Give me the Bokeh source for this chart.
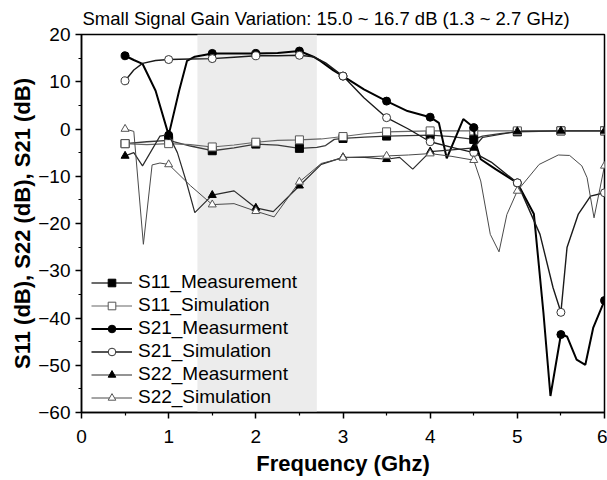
from bokeh.plotting import figure
from bokeh.models import BoxAnnotation, Legend, LegendItem, Range1d, FixedTicker
from bokeh.embed import file_html
from bokeh.resources import INLINE

# ---------------- data ----------------
title_text = "Small Signal Gain Variation: 15.0 ~ 16.7 dB (1.3 ~ 2.7 GHz)"
band = [1.33, 2.7]
x_ticks = [0, 1, 2, 3, 4, 5, 6]
y_ticks = [-60, -50, -40, -30, -20, -10, 0, 10, 20]

s11_meas_f = [0.5, 0.75, 1.0, 1.25, 1.5, 1.75, 2.0, 2.25, 2.5, 2.7, 2.8, 2.9, 3.0, 3.25, 3.5, 3.75, 4.0, 4.25, 4.5, 4.6, 4.8, 5.0, 5.5, 6.0]
s11_meas_v = [-3.1, -2.7, -2.4, -3.6, -4.6, -4.0, -3.2, -3.4, -4.1, -3.9, -3.5, -2.2, -2.0, -1.7, -1.5, -1.4, -1.3, -1.6, -2.2, -1.5, -1.0, -0.6, -0.4, -0.4]

s11_sim_f = [0.5, 0.75, 1.0, 1.25, 1.5, 1.75, 2.0, 2.25, 2.5, 2.75, 3.0, 3.25, 3.5, 4.0, 4.5, 5.0, 5.5, 6.0]
s11_sim_v = [-3.1, -3.3, -3.1, -3.3, -3.8, -3.4, -2.8, -2.4, -2.3, -2.1, -1.6, -1.0, -0.6, -0.4, -0.4, -0.4, -0.4, -0.4]

s21_meas_f = [0.5, 0.6, 0.7, 0.85, 1.0, 1.12, 1.21, 1.3, 1.5, 1.75, 2.0, 2.25, 2.5, 2.66, 2.74, 2.89, 3.0, 3.24, 3.5, 3.74, 4.0, 4.1, 4.19, 4.38, 4.5, 4.52, 4.58, 4.75, 5.0, 5.19, 5.3, 5.38, 5.5, 5.57, 5.68, 5.78, 5.87, 6.0]
s21_meas_v = [15.5, 14.6, 13.8, 8.1, -1.3, 8.1, 14.4, 15.3, 16.0, 16.0, 16.0, 16.1, 16.5, 15.3, 14.4, 12.4, 11.2, 8.4, 5.9, 3.8, 2.5, 1.3, -6.2, 2.1, 0.3, -2.9, -6.4, -8.5, -11.4, -18.0, -39.0, -56.5, -43.5, -43.9, -48.8, -49.9, -42.1, -36.3]

s21_sim_f = [0.5, 0.6, 0.7, 0.85, 1.0, 1.25, 1.5, 1.75, 2.0, 2.25, 2.5, 2.66, 2.8, 3.0, 3.24, 3.5, 3.75, 4.0, 4.25, 4.5, 4.7, 5.0, 5.26, 5.41, 5.5, 5.57, 5.7, 5.84, 6.0]
s21_sim_v = [10.2, 12.5, 13.9, 14.5, 14.7, 14.8, 14.9, 15.2, 15.5, 15.5, 15.6, 15.3, 14.0, 11.2, 6.6, 2.4, 0.0, -2.7, -3.9, -5.0, -7.0, -11.4, -22.3, -33.6, -38.8, -25.1, -18.0, -14.2, -13.5]

s22_meas_f = [0.5, 0.6, 0.7, 0.9, 1.0, 1.1, 1.2, 1.3, 1.5, 1.75, 2.0, 2.2, 2.5, 2.75, 3.0, 3.25, 3.5, 3.65, 3.8, 4.0, 4.25, 4.5, 4.6, 5.0, 5.5, 6.0]
s22_meas_v = [-5.7, -5.0, -7.8, -1.5, -1.2, -5.0, -11.0, -17.7, -14.0, -13.1, -16.7, -17.5, -12.0, -7.5, -6.0, -6.0, -6.4, -6.0, -8.5, -4.8, -4.4, -4.0, -1.8, -0.5, -0.4, -0.4]

s22_sim_f = [0.5, 0.6, 0.71, 0.81, 0.9, 1.0, 1.25, 1.5, 1.75, 2.0, 2.21, 2.5, 2.75, 3.0, 3.25, 3.5, 3.75, 4.0, 4.25, 4.5, 4.58, 4.69, 4.79, 4.88, 5.0, 5.25, 5.47, 5.6, 5.74, 5.8, 5.88, 6.0]
s22_sim_v = [0.0, -0.5, -24.4, -7.6, -7.2, -7.5, -12.0, -16.0, -15.8, -17.4, -18.6, -11.2, -7.3, -6.1, -5.9, -5.7, -5.5, -5.2, -5.8, -6.6, -11.0, -22.3, -26.0, -18.1, -13.1, -7.5, -5.5, -5.6, -7.8, -10.3, -18.8, -7.8]

series = [
    ("S11_Measurement", s11_meas_f, s11_meas_v, "square", "black", "black", "#3a3a3a", 1.3),
    ("S11_Simulation", s11_sim_f, s11_sim_v, "square", "white", "#555555", "#666666", 1.1),
    ("S21_Measurment", s21_meas_f, s21_meas_v, "circle", "black", "black", "#000000", 2.0),
    ("S21_Simulation", s21_sim_f, s21_sim_v, "circle", "white", "#333333", "#1a1a1a", 1.4),
    ("S22_Measurment", s22_meas_f, s22_meas_v, "triangle", "black", "black", "#2a2a2a", 1.2),
    ("S22_Simulation", s22_sim_f, s22_sim_v, "triangle", "white", "#555555", "#4a4a4a", 1.0),
]

# ---------------- figure ----------------
p = figure(width=607, height=480, output_backend="svg", toolbar_location=None,
           x_range=Range1d(0, 6), y_range=Range1d(-60, 20),
           min_border_left=81, min_border_right=3, min_border_top=34, min_border_bottom=68)

p.title.text = title_text
p.title.align = "left"
p.title.vertical_align = "middle"
p.title.text_font = "Liberation Sans"
p.title.text_font_size = "18.5px"
p.title.text_font_style = "normal"
p.title.text_color = "black"
p.title.offset = 1

p.xgrid.visible = False
p.ygrid.visible = False
p.outline_line_color = "black"
p.outline_line_width = 1.5
p.outline_line_alpha = 1.0

p.add_layout(BoxAnnotation(left=band[0], right=band[1], fill_color="#ececec", fill_alpha=1.0,
                           line_alpha=0, level="underlay"))

for ax in (p.xaxis[0], p.yaxis[0]):
    ax.axis_line_width = 1.5
    ax.major_tick_line_width = 1.5
    ax.minor_tick_line_width = 1.2
    ax.major_tick_in = 0
    ax.major_tick_out = 6
    ax.minor_tick_in = 0
    ax.minor_tick_out = 3
    ax.major_label_text_font = "Liberation Sans"
    ax.major_label_text_font_size = "19px"
    ax.axis_label_text_font = "Liberation Sans"
    ax.axis_label_text_font_size = "22px"
    ax.axis_label_text_font_style = "bold"
    ax.major_label_text_color = "black"
    ax.axis_label_text_color = "black"

p.xaxis.ticker = FixedTicker(ticks=x_ticks, minor_ticks=[t + 0.5 for t in x_ticks[:-1]])
p.yaxis.ticker = FixedTicker(ticks=y_ticks, minor_ticks=[t + 5 for t in y_ticks[:-1]])
p.xaxis.axis_label = "Frequency (Ghz)"
p.yaxis.axis_label = "S11 (dB), S22 (dB), S21 (dB)"
p.xaxis.axis_label_standoff = 5
p.yaxis.axis_label_standoff = 0
p.xaxis.major_label_standoff = 11
p.yaxis.major_label_standoff = 5

items = []
for name, f, v, marker, fill, mline, lcolor, lw in series:
    r_line = p.line(f, v, line_color=lcolor, line_width=lw)
    mf = [a for a in f if abs(a * 2 - round(a * 2)) < 1e-9]
    mv = [b for a, b in zip(f, v) if abs(a * 2 - round(a * 2)) < 1e-9]
    r_mark = p.scatter(mf, mv, marker=marker, size=8, fill_color=fill, line_color=mline, line_width=1)
    items.append(LegendItem(label=name, renderers=[r_line, r_mark]))

legend = Legend(items=items, location=(10, 4), padding=0, margin=0,
                border_line_alpha=0, background_fill_alpha=0,
                label_text_font="Liberation Sans", label_text_font_size="19px",
                label_text_color="black",
                glyph_width=41, glyph_height=19, label_height=19, spacing=1,
                label_standoff=6)
p.add_layout(legend)

open("out.html", "w").write(file_html(p, INLINE))
